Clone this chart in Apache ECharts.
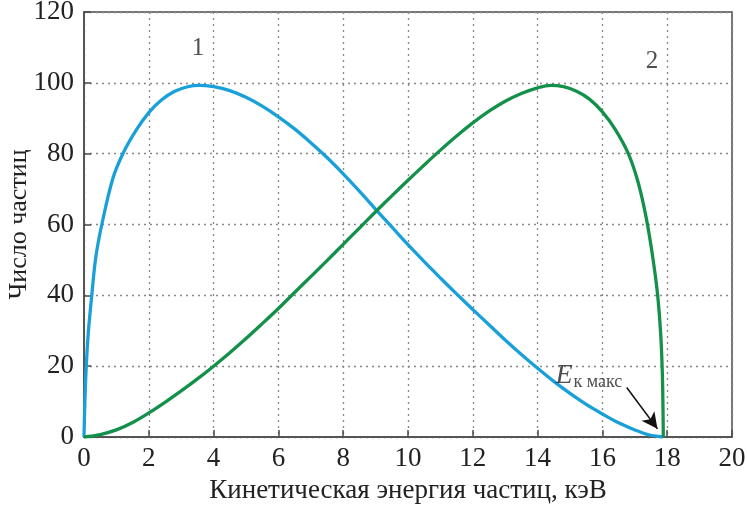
<!DOCTYPE html>
<html>
<head>
<meta charset="utf-8">
<script src="https://cdn.jsdelivr.net/npm/echarts@6/dist/echarts.min.js"></script>
<style>
  html, body { margin: 0; padding: 0; background: #fff; }
  #chart { width: 747px; height: 509px; }
</style>
</head>
<body>
<div id="chart"></div>
<script>
// Energy spectra of emitted particles: [energy, keV ; count]
const spectrum1 = [
  [0, 0], [0.03, 10.8], [0.07, 20], [0.135, 29.7], [0.24, 40], [0.36, 50.5],
  [0.55, 60], [0.89, 73], [1.2, 80], [1.6, 86.5], [2, 91.6], [2.4, 95.2],
  [2.8, 97.6], [3.2, 98.9], [3.55, 99.3], [4, 98.9], [4.5, 97.8], [5, 95.9],
  [5.5, 93.4], [6, 90.4], [6.5, 87], [7, 83.1], [7.5, 78.9], [8, 74.3],
  [8.5, 69.4], [9, 64.3], [9.5, 59.3], [10, 54.3], [10.5, 49.5], [11, 44.9],
  [11.5, 40.4], [12, 36], [12.5, 31.7], [13, 27.4], [13.5, 23.3], [14, 19.4],
  [14.5, 15.7], [15, 12.3], [15.5, 9.2], [16, 6.5], [16.5, 4.0], [17, 2.0],
  [17.4, 0.7], [17.87, 0]
];
const spectrum2 = [
  [0, 0], [0.5, 0.7], [1, 2], [1.5, 4.1], [2, 6.8], [2.5, 9.8], [3, 13],
  [3.5, 16.4], [4, 20], [4.5, 23.8], [5, 27.8], [5.5, 32], [6, 36.3],
  [6.5, 40.8], [7, 45.3], [7.5, 49.8], [8, 54.4], [8.5, 59], [9, 63.6],
  [9.5, 68.1], [10, 72.5], [10.5, 76.8], [11, 81], [11.5, 85], [12, 88.7],
  [12.5, 92], [13, 94.8], [13.5, 97], [14, 98.6], [14.4, 99.3], [14.8, 98.9],
  [15.2, 97.6], [15.6, 95.4], [16, 91.8], [16.4, 86.8], [16.8, 80], [17.1, 72],
  [17.35, 62], [17.55, 51], [17.7, 40.5], [17.8, 29], [17.85, 18], [17.87, 8],
  [17.88, 0]
];

// Axis ranges and ticks
const xTicks = [0, 2, 4, 6, 8, 10, 12, 14, 16, 18, 20];
const yTicks = [0, 20, 40, 60, 80, 100, 120];

// Curve labels and the end-point annotation (data coordinates)
const curveLabels = [
  { name: '1', value: [3.52, 109.8] },
  { name: '2', value: [17.53, 106] }
];
const ekLabel = [14.55, 17.2];
const ekArrow = [[16.75, 14], [17.7, 2.3]];

const FONT = '"Liberation Serif", "Times New Roman", serif';
const TEXT = '#222';

const chart = echarts.init(document.getElementById('chart'));
chart.setOption({
  animation: false,
  backgroundColor: '#fff',
  grid: {
    left: 84, right: 15, top: 12, bottom: 72,
    containLabel: false, outerBoundsMode: 'none',
    show: true, borderColor: '#4a4a4a', borderWidth: 1.5
  },
  xAxis: {
    type: 'value',
    min: xTicks[0], max: xTicks[xTicks.length - 1], interval: 2,
    name: 'Кинетическая энергия частиц, кэВ',
    nameLocation: 'middle', nameGap: 40, nameMoveOverlap: false,
    nameTextStyle: { fontFamily: FONT, fontSize: 27, color: TEXT },
    axisLine: { show: true, lineStyle: { color: '#4a4a4a', width: 1.5 } },
    axisTick: { show: true, inside: true, length: 7, lineStyle: { color: '#4a4a4a', width: 1.5 } },
    axisLabel: { fontFamily: FONT, fontSize: 27, color: TEXT, margin: 8 },
    splitLine: { show: true, lineStyle: { color: '#888', width: 1.3, type: [2, 4] } }
  },
  yAxis: {
    type: 'value',
    min: yTicks[0], max: yTicks[yTicks.length - 1], interval: 20,
    name: 'Число частиц',
    nameLocation: 'middle', nameGap: 52, nameRotate: 90, nameMoveOverlap: false,
    nameTextStyle: { fontFamily: FONT, fontSize: 26, color: TEXT },
    axisLine: { show: true, lineStyle: { color: '#4a4a4a', width: 1.5 } },
    axisTick: { show: true, inside: true, length: 7, lineStyle: { color: '#4a4a4a', width: 1.5 } },
    axisLabel: { fontFamily: FONT, fontSize: 27, color: TEXT, margin: 10 },
    splitLine: { show: true, lineStyle: { color: '#888', width: 1.3, type: [2, 4] } }
  },
  series: [
    {
      name: '1', type: 'line', data: spectrum1,
      showSymbol: false, smooth: 0.35,
      lineStyle: { color: '#1aa0d9', width: 3.3 }, z: 3
    },
    {
      name: '2', type: 'line', data: spectrum2,
      showSymbol: false, smooth: 0.35,
      lineStyle: { color: '#13904a', width: 3.3 }, z: 4,
      markLine: {
        silent: true, animation: false,
        symbol: ['none', 'arrow'], symbolSize: [12, 16],
        label: { show: false },
        lineStyle: { color: '#111', width: 1.6, type: 'solid' },
        data: [[{ coord: ekArrow[0] }, { coord: ekArrow[1] }]]
      }
    },
    {
      type: 'scatter', symbolSize: 0, silent: true, z: 5,
      data: curveLabels,
      label: {
        show: true, position: 'inside',
        formatter: p => p.name,
        fontFamily: FONT, fontSize: 25, color: TEXT
      }
    },
    {
      type: 'scatter', symbolSize: 0, silent: true, z: 5,
      data: [{ value: ekLabel }],
      label: {
        show: true, position: 'right', distance: 0,
        formatter: '{e|E}{s|к макс}',
        rich: {
          e: { fontFamily: FONT, fontSize: 28, fontStyle: 'italic', color: TEXT },
          s: { fontFamily: FONT, fontSize: 18, color: TEXT, padding: [12, 0, 0, 1] }
        }
      }
    }
  ]
});
</script>
</body>
</html>
